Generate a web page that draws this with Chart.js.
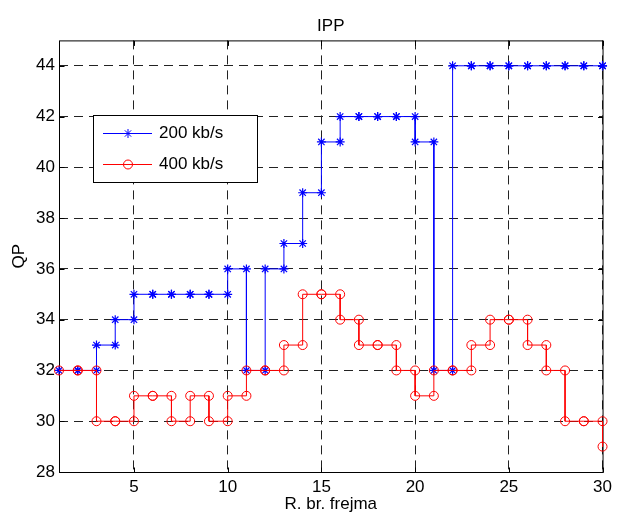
<!DOCTYPE html>
<html><head><meta charset="utf-8">
<script src="https://cdn.jsdelivr.net/npm/chart.js@4/dist/chart.umd.min.js"></script>
<style>html,body{margin:0;padding:0;background:#fff}canvas{display:block}</style>
</head><body>
<canvas id="c" width="617" height="515"></canvas>
<script>
// ---- data ----
const frames = [1,2,3,4,5,6,7,8,9,10,11,12,13,14,15,16,17,18,19,20,21,22,23,24,25,26,27,28,29,30];
const qp200 = [32,32,33,34,35,35,35,35,35,36,32,36,37,39,41,42,42,42,42,41,32,44,44,44,44,44,44,44,44,44];
const qp400 = [32,32,30,30,31,31,30,31,30,31,32,32,33,35,35,34,33,33,32,31,32,32,33,34,34,33,32,30,30,29];
const seriesLabels = ['200 kb/s', '400 kb/s'];
const xTicks = [5,10,15,20,25,30];
const yTicks = [28,30,32,34,36,38,40,42,44];
const chartTitle = 'IPP';
const xTitle = 'R. br. frejma';
const yTitle = 'QP';

// MATLAB-style stairs: vertices (x_i,y_i),(x_{i+1},y_i)
function stairs(xs, ys) {
  const pts = [];
  for (let i = 0; i < xs.length; i++) {
    pts.push({x: xs[i], y: ys[i]});
    if (i < xs.length - 1) pts.push({x: xs[i + 1], y: ys[i]});
  }
  return pts;
}

const FONT = "'Liberation Sans', Arial, Helvetica, sans-serif";
Chart.defaults.font.family = FONT;
Chart.defaults.color = '#000';

const frameBox = {
  id: 'frameBox',
  beforeDatasetsDraw(chart) {
    const {ctx, chartArea: a, scales} = chart;
    ctx.save();
    ctx.strokeStyle = '#000';
    ctx.lineWidth = 1;
    ctx.setLineDash([]);
    const L = a.left + 0.5, R = a.right + 0.5, T = a.top + 0.5, B = a.bottom + 0.5;
    ctx.strokeRect(L, T, R - L, B - T);
    const tl = 5;
    ctx.beginPath();
    xTicks.forEach(v => {
      const px = Math.round(scales.x.getPixelForValue(v)) + 0.5;
      ctx.moveTo(px, B); ctx.lineTo(px, B - tl);
      ctx.moveTo(px, T); ctx.lineTo(px, T + tl);
    });
    yTicks.forEach(v => {
      const py = Math.round(scales.y.getPixelForValue(v)) + 0.5;
      ctx.moveTo(L, py); ctx.lineTo(L + tl, py);
      ctx.moveTo(R, py); ctx.lineTo(R - tl, py);
    });
    ctx.stroke();
    ctx.restore();
  }
};

const boxLegend = {
  id: 'boxLegend',
  afterDatasetsDraw(chart) {
    const {ctx} = chart;
    const x0 = 93.5, y0 = 115.5, w = 164, h = 67;
    ctx.save();
    ctx.fillStyle = '#fff';
    ctx.fillRect(x0, y0, w, h);
    ctx.strokeStyle = '#000';
    ctx.lineWidth = 1;
    ctx.setLineDash([]);
    ctx.strokeRect(x0, y0, w, h);
    const rows = [133.5, 164.5];
    chart.data.datasets.forEach((ds, i) => {
      const y = rows[i];
      ctx.strokeStyle = ds.borderColor;
      ctx.lineWidth = 1;
      ctx.beginPath(); ctx.moveTo(103, y); ctx.lineTo(152, y); ctx.stroke();
      const mx = 128, r = 4.5;
      ctx.beginPath();
      if (ds.pointStyle === 'star') {
        ctx.moveTo(mx - r, y); ctx.lineTo(mx + r, y);
        ctx.moveTo(mx, y - r); ctx.lineTo(mx, y + r);
        const d = r * Math.SQRT1_2;
        ctx.moveTo(mx - d, y - d); ctx.lineTo(mx + d, y + d);
        ctx.moveTo(mx - d, y + d); ctx.lineTo(mx + d, y - d);
      } else {
        ctx.arc(mx, y, r, 0, Math.PI * 2);
      }
      ctx.stroke();
      ctx.fillStyle = '#000';
      ctx.font = '17px ' + FONT;
      ctx.textBaseline = 'middle';
      ctx.textAlign = 'left';
      ctx.fillText(ds.label, 159, y);
    });
    ctx.restore();
  }
};

new Chart(document.getElementById('c'), {
  type: 'line',
  data: {
    datasets: [
      {
        label: seriesLabels[0],
        data: stairs(frames, qp200),
        borderColor: '#0000ff',
        backgroundColor: '#0000ff',
        borderWidth: 1,
        pointStyle: 'star',
        pointRadius: 4.5,
        pointBorderWidth: 1.2,
        pointBorderColor: '#0000ff',
        pointBackgroundColor: 'rgba(0,0,0,0)',
        tension: 0,
        fill: false,
        clip: false,
        order: 1
      },
      {
        label: seriesLabels[1],
        data: stairs(frames, qp400),
        borderColor: '#ff0000',
        backgroundColor: '#ff0000',
        borderWidth: 1,
        pointStyle: 'circle',
        pointRadius: 4.5,
        pointBorderWidth: 1,
        pointBorderColor: '#ff0000',
        pointBackgroundColor: 'rgba(0,0,0,0)',
        tension: 0,
        fill: false,
        clip: false,
        order: 0
      }
    ]
  },
  options: {
    responsive: false,
    animation: false,
    devicePixelRatio: 1,
    layout: {padding: {top: 0, left: 0, right: 13, bottom: 0}},
    plugins: {
      legend: {display: false},
      tooltip: {enabled: false},
      title: {
        display: true, text: chartTitle, fullSize: false, color: '#000',
        font: {size: 17, weight: 'normal', family: FONT},
        padding: {top: 16, bottom: 4}
      }
    },
    scales: {
      x: {
        type: 'linear', min: 1, max: 30,
        afterBuildTicks: s => { s.ticks = xTicks.map(v => ({value: v})); },
        afterFit: s => { s.height = 43; },
        ticks: {font: {size: 17}, color: '#000', padding: 5, maxRotation: 0, autoSkip: false},
        grid: {color: '#222', lineWidth: 1, drawTicks: false},
        border: {display: false, dash: [9, 6]},
        title: {display: true, text: xTitle, color: '#000', font: {size: 17, lineHeight: 1}, padding: {top: 0, bottom: 2}}
      },
      y: {
        type: 'linear', min: 28, max: 45,
        afterBuildTicks: s => { s.ticks = yTicks.map(v => ({value: v})); },
        afterFit: s => { s.width = 59; },
        ticks: {font: {size: 17}, color: '#000', padding: 4, autoSkip: false},
        grid: {color: '#222', lineWidth: 1, drawTicks: false},
        border: {display: false, dash: [9, 6]},
        title: {display: true, text: yTitle, color: '#000', font: {size: 17}, padding: {top: 9, bottom: 0}}
      }
    }
  },
  plugins: [frameBox, boxLegend]
});
</script>
</body></html>
